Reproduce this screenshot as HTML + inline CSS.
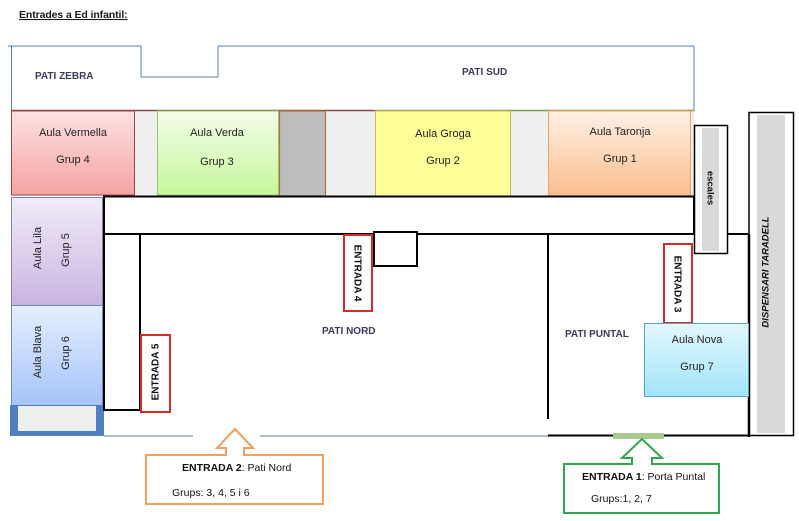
<!DOCTYPE html>
<html><head><meta charset="utf-8"><style>
html,body{margin:0;padding:0;background:#fff;}
svg{display:block;}
text{font-family:"Liberation Sans",sans-serif;}
</style></head><body>
<svg width="799" height="521" viewBox="0 0 799 521" xmlns="http://www.w3.org/2000/svg">
<defs>
<linearGradient id="gRed" x1="0" y1="0" x2="0" y2="1"><stop offset="0" stop-color="#fde2e2"/><stop offset="1" stop-color="#f5a2a2"/></linearGradient>
<linearGradient id="gGreen" x1="0" y1="0" x2="0" y2="1"><stop offset="0" stop-color="#f3fde9"/><stop offset="1" stop-color="#c6f79c"/></linearGradient>
<linearGradient id="gOrange" x1="0" y1="0" x2="0" y2="1"><stop offset="0" stop-color="#fff1e6"/><stop offset="1" stop-color="#fbbd8c"/></linearGradient>
<linearGradient id="gLila" x1="0" y1="0" x2="0" y2="1"><stop offset="0" stop-color="#f1ebf8"/><stop offset="1" stop-color="#c9b5e1"/></linearGradient>
<linearGradient id="gBlue" x1="0" y1="0" x2="0" y2="1"><stop offset="0" stop-color="#e5efff"/><stop offset="1" stop-color="#a5c4f9"/></linearGradient>
<linearGradient id="gNova" x1="0" y1="0" x2="0" y2="1"><stop offset="0" stop-color="#e2f8ff"/><stop offset="1" stop-color="#a2e4f9"/></linearGradient>
</defs>

<!-- title -->
<text x="19" y="18" font-size="10.5" font-weight="bold" text-decoration="underline" fill="#1a1a1a" letter-spacing="-0.1">Entrades a Ed infantil:</text>

<!-- outer blue outline -->
<polyline points="8,46 141,46 141,77 218,77 218,46 694,46 694,111" fill="none" stroke="#5b7fa9" stroke-width="1"/>
<line x1="11.5" y1="46" x2="11.5" y2="111" stroke="#5b7fa9" stroke-width="1"/>

<text x="35" y="79" font-size="10" font-weight="bold" fill="#3b3b5e">PATI ZEBRA</text>
<text x="462" y="75" font-size="10" font-weight="bold" fill="#3b3b5e">PATI SUD</text>

<!-- classroom row background gaps -->
<rect x="11" y="110" width="683" height="86" fill="#efefef"/>
<line x1="11" y1="110.5" x2="375" y2="110.5" stroke="#8b4a4a" stroke-width="1.5"/>
<line x1="375" y1="110.5" x2="694" y2="110.5" stroke="#7aa050" stroke-width="1.5"/>

<rect x="11.5" y="111" width="123" height="84" fill="url(#gRed)" stroke="#9a4646" stroke-width="1"/>
<text x="73" y="136" font-size="11" text-anchor="middle" fill="#222">Aula Vermella</text>
<text x="73" y="163" font-size="11" text-anchor="middle" fill="#222">Grup 4</text>

<rect x="157.5" y="111" width="121" height="84" fill="url(#gGreen)" stroke="#98c46c" stroke-width="1"/>
<text x="217" y="136" font-size="11" text-anchor="middle" fill="#222">Aula Verda</text>
<text x="217" y="165" font-size="11" text-anchor="middle" fill="#222">Grup 3</text>

<rect x="279.5" y="111" width="46" height="85" fill="#bdbdbd" stroke="#b0743e" stroke-width="1.2"/>

<rect x="375.5" y="111" width="135" height="86" fill="#ffff99" stroke="#cfb062" stroke-width="1"/>
<text x="443" y="137" font-size="11" text-anchor="middle" fill="#222">Aula Groga</text>
<text x="443" y="164" font-size="11" text-anchor="middle" fill="#222">Grup 2</text>

<rect x="548.5" y="111" width="142" height="85" fill="url(#gOrange)" stroke="#f0a263" stroke-width="1"/>
<text x="620" y="135" font-size="11" text-anchor="middle" fill="#222">Aula Taronja</text>
<text x="620" y="162" font-size="11" text-anchor="middle" fill="#222">Grup 1</text>

<!-- left column -->
<rect x="11.5" y="197.5" width="91" height="108" fill="url(#gLila)" stroke="#8a7fae" stroke-width="1"/>
<text transform="translate(38,248) rotate(-90)" font-size="11" text-anchor="middle" dominant-baseline="central" fill="#222">Aula Lila</text>
<text transform="translate(66,250) rotate(-90)" font-size="11" text-anchor="middle" dominant-baseline="central" fill="#222">Grup 5</text>

<rect x="11.5" y="305.5" width="91" height="100" fill="url(#gBlue)" stroke="#6a8ac0" stroke-width="1"/>
<text transform="translate(38,352) rotate(-90)" font-size="11" text-anchor="middle" dominant-baseline="central" fill="#222">Aula Blava</text>
<text transform="translate(66,353) rotate(-90)" font-size="11" text-anchor="middle" dominant-baseline="central" fill="#222">Grup 6</text>

<rect x="10" y="405" width="94" height="31" fill="#4f7fbf"/>
<rect x="18" y="406" width="78" height="25" fill="#efefef"/>

<!-- corridor black lines -->
<line x1="103" y1="196.5" x2="695" y2="196.5" stroke="#000" stroke-width="2"/>
<line x1="694" y1="196" x2="694" y2="235" stroke="#000" stroke-width="2"/>
<line x1="103" y1="234" x2="694" y2="234" stroke="#000" stroke-width="2"/>
<line x1="104" y1="196" x2="104" y2="411" stroke="#000" stroke-width="2"/>
<line x1="140" y1="234" x2="140" y2="411" stroke="#000" stroke-width="2"/>
<line x1="103" y1="410" x2="141" y2="410" stroke="#000" stroke-width="2"/>
<line x1="548" y1="234" x2="548" y2="419" stroke="#000" stroke-width="2"/>
<line x1="728" y1="234" x2="749" y2="234" stroke="#000" stroke-width="2"/>

<!-- small black box -->
<rect x="374" y="232" width="43" height="34" fill="#fff" stroke="#000" stroke-width="2"/>

<!-- escales -->
<rect x="694.5" y="125.5" width="33" height="128" fill="#fff" stroke="#000" stroke-width="1.5"/>
<rect x="702" y="128" width="17" height="123" fill="#d9d9d9"/>
<text transform="translate(710,188) rotate(90)" font-size="9.5" font-weight="bold" text-anchor="middle" dominant-baseline="central" fill="#111">escales</text>

<!-- dispensari -->
<rect x="749" y="112.5" width="44.5" height="323" fill="#fff" stroke="#000" stroke-width="1.5"/>
<line x1="749" y1="234" x2="749" y2="437" stroke="#000" stroke-width="2.5"/>
<rect x="757" y="115" width="28" height="318" fill="#d9d9d9"/>
<text transform="translate(766,272) rotate(-90)" font-size="9.5" font-weight="bold" font-style="italic" text-anchor="middle" dominant-baseline="central" fill="#111">DISPENSARI TARADELL</text>

<!-- entrada boxes -->
<rect x="141" y="335" width="29" height="77" fill="#fff" stroke="#d42a2a" stroke-width="2"/>
<text transform="translate(156,372) rotate(-90)" font-size="10" font-weight="bold" text-anchor="middle" dominant-baseline="central" fill="#111">ENTRADA 5</text>

<rect x="344" y="235" width="28" height="76" fill="#fff" stroke="#d42a2a" stroke-width="2"/>
<text transform="translate(357,273) rotate(90)" font-size="10" font-weight="bold" text-anchor="middle" dominant-baseline="central" fill="#111">ENTRADA 4</text>

<rect x="664" y="244" width="28" height="79" fill="#fff" stroke="#d42a2a" stroke-width="2"/>
<text transform="translate(677,284) rotate(90)" font-size="10" font-weight="bold" text-anchor="middle" dominant-baseline="central" fill="#111">ENTRADA 3</text>

<!-- Aula Nova -->
<rect x="644.5" y="323.5" width="104" height="73" fill="url(#gNova)" stroke="#5fa6c6" stroke-width="1"/>
<text x="697" y="343" font-size="11" text-anchor="middle" fill="#222">Aula Nova</text>
<text x="697" y="370" font-size="11" text-anchor="middle" fill="#222">Grup 7</text>

<text x="322" y="334" font-size="10" font-weight="bold" fill="#3b3b5e">PATI NORD</text>
<text x="565" y="337" font-size="10" font-weight="bold" fill="#3b3b5e">PATI PUNTAL</text>

<!-- bottom lines -->
<line x1="104" y1="436" x2="193" y2="436" stroke="#5b7fa9" stroke-width="1"/>
<line x1="260" y1="436" x2="549" y2="436" stroke="#5b7fa9" stroke-width="1"/>
<line x1="548" y1="435.5" x2="750" y2="435.5" stroke="#000" stroke-width="2"/>
<rect x="613" y="433" width="51" height="6" fill="#a9c98c"/>

<!-- callouts -->
<path d="M146,455 L226,455 L226,448 L217,448 L235,429 L253,448 L244,448 L244,455 L323,455 L323,504 L146,504 Z" fill="#fff" stroke="#f0a060" stroke-width="2"/>
<text x="182" y="471" font-size="10.5" fill="#111"><tspan font-weight="bold">ENTRADA 2</tspan>: Pati Nord</text>
<text x="172" y="496" font-size="10.5" fill="#111">Grups: 3, 4, 5 i 6</text>

<path d="M564,464 L632,464 L632,458 L622,458 L642,439 L662,458 L652,458 L652,464 L719,464 L719,513 L564,513 Z" fill="#fff" stroke="#2ea84a" stroke-width="2"/>
<text x="582" y="480" font-size="10.5" fill="#111"><tspan font-weight="bold">ENTRADA 1</tspan>: Porta Puntal</text>
<text x="591" y="502" font-size="10.5" fill="#111">Grups:1, 2, 7</text>
</svg>
</body></html>
